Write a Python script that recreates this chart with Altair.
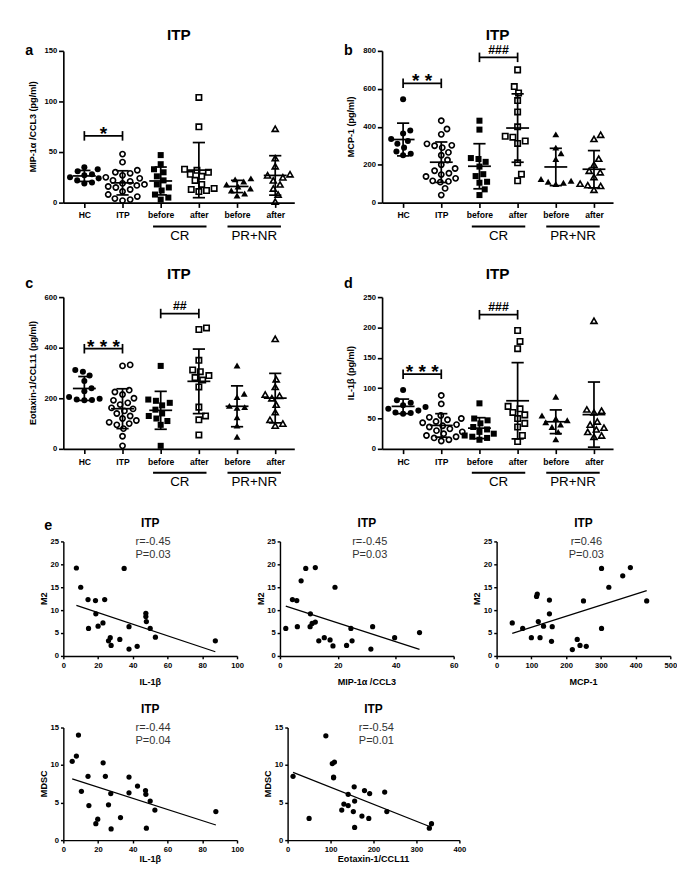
import altair as alt
import numpy as np
import pandas as pd

FONT = "Liberation Sans"

# ---------------- data: dot plots ----------------
CAT_LABELS = ["HC", "ITP", "before", "after", "before", "after"]
SHAPES = ["circle", "circle", "square", "square", "triangle-up", "triangle-up"]
FILLED = [True, False, True, False, True, False]
SIZES = [40, 30, 40, 32, 52, 40]

# a: MIP-1a/CCL3
a_hc = [35, 33, 31, 28, 27, 25, 24, 22, 20, 19]
a_itp = [48, 40, 32, 30, 29, 27, 25, 24, 22, 21, 19, 18, 17, 16, 15, 13, 11, 8, 6, 4, 3, 2]
a_cr_before = [47, 38, 33, 30, 26, 22, 18, 15, 12, 8, 5, 3]
a_cr_after = [104, 75, 33, 32, 30, 28, 26, 22, 18, 14, 13, 12, 11]
a_pr_before = [24, 23, 21, 18, 16, 14, 12, 9, 7]
a_pr_after = [73, 44, 36, 28, 27, 25, 22, 18, 14, 8, 1]

# b: MCP-1
b_hc = [545, 380, 365, 335, 325, 310, 290, 270, 258, 250]
b_itp = [432, 388, 360, 310, 302, 300, 290, 265, 250, 225, 200, 180, 168, 155, 148, 138, 128, 115, 112, 108, 75, 40]
b_cr_before = [432, 385, 235, 230, 215, 190, 150, 140, 110, 105, 70, 40]
b_cr_after = [700, 612, 578, 538, 478, 400, 350, 345, 325, 312, 210, 150, 115]
b_pr_before = [360, 290, 260, 230, 125, 115, 110, 105, 98]
b_pr_after = [358, 336, 232, 200, 168, 160, 135, 100, 92, 88, 68]

# c: Eotaxin-1/CCL11
c_hc = [312, 305, 290, 268, 240, 228, 205, 198, 195, 193, 192]
c_itp = [332, 328, 232, 225, 215, 200, 192, 182, 175, 162, 158, 150, 140, 130, 120, 112, 105, 100, 95, 80, 50, 12]
c_cr_before = [328, 195, 190, 182, 172, 155, 140, 130, 120, 110, 95, 12]
c_cr_after = [478, 472, 350, 312, 305, 290, 282, 272, 245, 165, 130, 115, 55]
c_pr_before = [330, 218, 205, 170, 165, 162, 125, 92, 48]
c_pr_after = [435, 275, 245, 215, 210, 200, 175, 145, 115, 100, 92]

# d: IL-1b
d_hc = [97, 80, 76, 72, 69, 66, 63, 60, 59, 58]
d_itp = [88, 74, 55, 52, 50, 48, 45, 43, 40, 38, 36, 33, 30, 28, 25, 22, 20, 18, 15, 13]
d_cr_before = [75, 50, 47, 42, 36, 32, 28, 25, 22, 20, 18, 15]
d_cr_after = [195, 177, 165, 70, 66, 60, 56, 50, 42, 36, 22, 12]
d_pr_before = [86, 55, 50, 47, 44, 40, 36, 28, 16]
d_pr_after = [211, 65, 63, 60, 45, 40, 35, 32, 28, 22, 20]

# significance brackets: (from group, to group, level, label)
a_brackets = [(0, 1, 66, "*")]
b_brackets = [(0, 1, 629, "* *"), (2, 3, 766, "###")]
c_brackets = [(0, 1, 396, "* * *"), (2, 3, 535, "##")]
d_brackets = [(0, 1, 123, "* * *"), (2, 3, 221, "###")]

# group labels under the axis
group_labels = ["CR", "PR+NR"]
group_spans = [(1.8, 3.2, 2.5), (3.75, 5.15, 4.45)]

# ---------------- data: correlations ----------------
e1_x = [7.5, 10, 14.2, 18.5, 23.8, 18.7, 14.5, 20, 22.8, 35, 37.8, 47.5, 47.5, 47.8, 50, 53, 26, 27, 27.5, 32.5, 37.8, 42.5, 87.5]
e1_y = [19.2, 15, 12.3, 12.1, 12.3, 9.2, 6.0, 6.5, 7.2, 19.1, 6.4, 9.3, 8.6, 7.5, 6.0, 4.1, 3.3, 4.0, 2.3, 3.6, 1.5, 2.1, 3.3]

e2_x = [2.0, 4.3, 5.8, 6.0, 7.3, 8.9, 12.2, 10.5, 10.4, 11.1, 12.2, 19, 24.5, 32, 48.2, 13.4, 15.3, 17.3, 18.3, 23, 24.9, 31.4, 39.6]
e2_y = [6.0, 12.3, 12.1, 6.4, 16.4, 19.1, 19.3, 9.2, 6.4, 7.1, 7.4, 15.0, 6.0, 6.4, 5.1, 3.3, 4.0, 3.5, 2.2, 2.3, 3.3, 1.5, 4.0]

e3_x = [45, 75, 100, 115, 117, 120, 125, 135, 152, 152, 160, 158, 218, 232, 240, 258, 250, 302, 302, 323, 363, 385, 432]
e3_y = [7.2, 6.0, 4.0, 13.0, 13.5, 7.5, 4.0, 6.5, 12.2, 9.2, 6.4, 3.2, 1.4, 3.6, 2.3, 2.1, 12.0, 19.1, 6.0, 15.0, 17.5, 19.3, 12.0]

e4_x = [5.1, 7.5, 8.7, 10.4, 14.2, 14.7, 18.7, 19.8, 22.9, 24.2, 26, 27.3, 27.5, 32.9, 37.8, 37.8, 42.7, 47.3, 47.5, 47.8, 50, 52.7, 87.8]
e4_y = [10.5, 11.2, 14.0, 6.5, 8.5, 4.6, 2.2, 2.8, 10.3, 8.5, 4.7, 6.2, 1.5, 3.0, 8.4, 6.3, 7.2, 6.6, 6.1, 1.6, 5.2, 4.0, 3.8]

e5_x = [12.6, 50, 89, 104, 109, 107, 107, 126, 131, 141, 141, 155, 156, 153, 156, 173, 179, 189, 191, 226, 231, 330, 335]
e5_y = [8.5, 2.9, 13.9, 10.2, 10.4, 8.4, 8.3, 4.0, 4.8, 6.1, 4.6, 7.1, 5.2, 3.8, 1.7, 3.2, 6.6, 2.9, 6.2, 6.4, 3.8, 1.6, 2.2]

# ---------------- helpers ----------------
ONE = pd.DataFrame({"k": [0]})
XDOM = [-0.55, 5.5]
W_TOP, H_TOP = 242, 159


def txt(text, x, y, size, weight="normal", align="center", baseline="alphabetic", angle=0, color="black"):
    return alt.Chart(ONE).mark_text(
        text=text, font=FONT, fontSize=size, fontWeight=weight, align=align,
        baseline=baseline, angle=angle, color=color
    ).encode(x=alt.value(x), y=alt.value(y))


def anchor(x, y1, y2):
    return alt.Chart(ONE).mark_rule(opacity=0, strokeWidth=0).encode(
        x=alt.value(x), x2=alt.value(x), y=alt.value(y1), y2=alt.value(y2))


def swarm(vals, ppu_y, ppu_x, d=8.0):
    order = sorted(range(len(vals)), key=lambda i: vals[i])
    placed = []
    offs = [0.0] * len(vals)
    cands = [0.0]
    for k in range(1, 80):
        cands += [k * 0.5, -k * 0.5]
    for i in order:
        y = vals[i] * ppu_y
        chosen = 0.0
        for c in cands:
            if all((c - px) ** 2 + (y - py) ** 2 >= d * d for py, px in placed):
                chosen = c
                break
        placed.append((y, chosen))
        offs[i] = chosen / ppu_x
    return offs


def dot_panel(groups, ymax, yticks, ytitle, letter, letter_y, title_y, brackets, anch):
    W, H = W_TOP, H_TOP
    ppu_y = H / ymax
    ppu_x = W / (XDOM[1] - XDOM[0])
    xs = alt.Scale(domain=XDOM, nice=False, zero=False)
    ys = alt.Scale(domain=[0, ymax], nice=False, zero=False)
    label_expr = "[" + ",".join("'%s'" % c for c in CAT_LABELS) + "][datum.value]"
    xax = alt.Axis(values=list(range(6)), labelExpr=label_expr, title=None, labelFontSize=9,
                   labelFontWeight="bold", tickSize=5, labelPadding=4, domainWidth=1.7, tickWidth=1.7)
    yax = alt.Axis(values=yticks, title=None, labelFontSize=8, labelFontWeight="bold",
                   tickSize=5, labelPadding=2, domainWidth=1.7, tickWidth=1.7)

    def X(f):
        return alt.X(f, type="quantitative", scale=xs, axis=xax)

    def Y(f):
        return alt.Y(f, type="quantitative", scale=ys, axis=yax)

    layers = []
    summ = []
    for gi, vals in enumerate(groups):
        offs = swarm(vals, ppu_y, ppu_x)
        df = pd.DataFrame({"x": [gi + o for o in offs], "v": vals})
        layers.append(alt.Chart(df).mark_point(
            shape=SHAPES[gi], filled=FILLED[gi], size=SIZES[gi], color="black",
            opacity=1, strokeWidth=1.7).encode(x=X("x"), y=Y("v")))
        m = float(np.mean(vals))
        s = float(np.std(vals, ddof=1))
        summ.append({"gi": gi, "m": m, "lo": m - s, "hi": m + s,
                     "ml": gi - 0.3, "mr": gi + 0.3, "cl": gi - 0.16, "cr": gi + 0.16})
    sm = pd.DataFrame(summ)
    rule = dict(color="black", strokeWidth=1.8)
    layers += [
        alt.Chart(sm).mark_rule(**rule).encode(x=X("gi"), y=Y("lo"), y2="hi"),
        alt.Chart(sm).mark_rule(**rule).encode(x=X("ml"), x2="mr", y=Y("m")),
        alt.Chart(sm).mark_rule(**rule).encode(x=X("cl"), x2="cr", y=Y("hi")),
        alt.Chart(sm).mark_rule(**rule).encode(x=X("cl"), x2="cr", y=Y("lo")),
    ]
    cap = 5.0 / ppu_y
    for (g1, g2, lvl, lab) in brackets:
        bdf = pd.DataFrame([{"x1": g1, "x2": g2, "y": lvl, "ylo": lvl - cap, "yhi": lvl + cap,
                             "xm": (g1 + g2) / 2, "t": lab}])
        is_star = "*" in lab
        layers += [
            alt.Chart(bdf).mark_rule(**rule).encode(x=X("x1"), x2="x2", y=Y("y")),
            alt.Chart(bdf).mark_rule(**rule).encode(x=X("x1"), y=Y("ylo"), y2="yhi"),
            alt.Chart(bdf).mark_rule(**rule).encode(x=X("x2"), y=Y("ylo"), y2="yhi"),
            alt.Chart(bdf).mark_text(font=FONT, fontWeight="bold", fontSize=20 if is_star else 13,
                                     baseline="alphabetic", dy=4 if is_star else -4,
                                     color="black").encode(x=X("xm"), y=Y("y"), text="t:N"),
        ]
    gdf = pd.DataFrame([{"x1": s[0], "x2": s[1], "xm": s[2], "t": t}
                        for s, t in zip(group_spans, group_labels)])
    layers += [
        alt.Chart(gdf).mark_rule(color="black", strokeWidth=2).encode(
            x=X("x1"), x2="x2", y=alt.value(H + 25)),
        alt.Chart(gdf).mark_text(font=FONT, fontSize=14, color="black", baseline="alphabetic").encode(
            x=X("xm"), y=alt.value(H + 39), text="t:N"),
        txt("ITP", W / 2, title_y, 16, weight="bold"),
        txt(letter, -40, letter_y, 15, weight="bold", align="left"),
        txt(ytitle, -32, H / 2, 9.5, weight="bold", baseline="middle", angle=270),
    ]
    if anch is not None:
        layers.append(anchor(*anch))
    return alt.layer(*layers).properties(width=W, height=H)


def scatter_panel(xv, yv, xmax, xticks, ymax, yticks, xtitle, ytitle, rtxt, ptxt, W, H,
                  xtitle_dy=27, extra=None):
    df = pd.DataFrame({"x": xv, "y": yv})
    xs = alt.Scale(domain=[0, xmax], nice=False, zero=False)
    ys = alt.Scale(domain=[0, ymax], nice=False, zero=False)
    xax = alt.Axis(values=xticks, title=None, labelFontSize=8, labelFontWeight="bold",
                   tickSize=3, labelPadding=3, domainWidth=1.5, tickWidth=1.5)
    yax = alt.Axis(values=yticks, title=None, labelFontSize=8, labelFontWeight="bold",
                   tickSize=3, labelPadding=2, domainWidth=1.5, tickWidth=1.5)
    enc = dict(x=alt.X("x:Q", scale=xs, axis=xax), y=alt.Y("y:Q", scale=ys, axis=yax))
    layers = [
        alt.Chart(df).transform_regression("x", "y").mark_line(color="black", strokeWidth=1.3).encode(**enc),
        alt.Chart(df).mark_circle(size=30, color="black", opacity=1).encode(**enc),
        txt("ITP", W / 2, -15, 12.5, weight="bold"),
        txt(rtxt, W / 2 + 3, 4, 11.5, color="#333333"),
        txt(ptxt, W / 2 + 3, 17, 11.5, color="#333333"),
        txt(xtitle, W / 2, H + xtitle_dy, 9.5, weight="bold", baseline="middle"),
        txt(ytitle, -20, H / 2, 9.5, weight="bold", baseline="middle", angle=270),
    ]
    if extra:
        layers += extra
    return alt.layer(*layers).properties(width=W, height=H)


# ---------------- panels ----------------
pa = dot_panel([a_hc, a_itp, a_cr_before, a_cr_after, a_pr_before, a_pr_after], 150, [0, 50, 100, 150],
               "MIP-1α /CCL3 (pg/ml)", "a", 4, -11, a_brackets, (-58, -24, H_TOP + 54))
pb = dot_panel([b_hc, b_itp, b_cr_before, b_cr_after, b_pr_before, b_pr_after], 800, [0, 200, 400, 600, 800],
               "MCP-1 (pg/ml)", "b", 4, -11, b_brackets, None)
pc = dot_panel([c_hc, c_itp, c_cr_before, c_cr_after, c_pr_before, c_pr_after], 600, [0, 200, 400, 600],
               "Eotaxin-1/CCL11 (pg/ml)", "c", -10, -19, c_brackets, (-58, -45, H_TOP + 56))
pd_ = dot_panel([d_hc, d_itp, d_cr_before, d_cr_after, d_pr_before, d_pr_after], 250, [0, 50, 100, 150, 200, 250],
                "IL-1β (pg/ml)", "d", -10, -19, d_brackets, None)

W3, H3 = 182, 120
W4, H4 = 182, 118
M2_TICKS = [0, 5, 10, 15, 20, 25]
MD_TICKS = [0, 5, 10, 15]

e1 = scatter_panel(e1_x, e1_y, 100, [0, 20, 40, 60, 80, 100], 25, M2_TICKS, "IL-1β", "M2",
                   "r=-0.45", "P=0.03", W3, H3,
                   extra=[txt("e", -20, -12, 15, weight="bold", align="left"), anchor(-25, -41, H3 + 39)])
e2 = scatter_panel(e2_x, e2_y, 60, [0, 20, 40, 60], 25, M2_TICKS, "MIP-1α /CCL3", "M2",
                   "r=-0.45", "P=0.03", W3, H3)
e3 = scatter_panel(e3_x, e3_y, 500, [0, 100, 200, 300, 400, 500], 25, M2_TICKS, "MCP-1", "M2",
                   "r=0.46", "P=0.03", W3, H3)
e4 = scatter_panel(e4_x, e4_y, 100, [0, 20, 40, 60, 80, 100], 15, MD_TICKS, "IL-1β", "MDSC",
                   "r=-0.44", "P=0.04", W4, H4, xtitle_dy=20, extra=[anchor(-25, -36, H4 + 25)])
e5 = scatter_panel(e5_x, e5_y, 400, [0, 100, 200, 300, 400], 15, MD_TICKS, "Eotaxin-1/CCL11", "MDSC",
                   "r=-0.54", "P=0.01", 180, H4, xtitle_dy=20)

row1 = alt.hconcat(pa, pb, spacing=92, bounds="flush")
row2 = alt.hconcat(pc, pd_, spacing=92, bounds="flush")
row3 = alt.hconcat(e1, e2, e3, spacing=45, bounds="flush")
row4 = alt.hconcat(e4, e5, spacing=53, bounds="flush")

chart = alt.vconcat(row1, row2, row3, row4, spacing=0, padding=0).configure_view(
    strokeWidth=0
).configure_axis(
    grid=False, labelFlush=False, labelOverlap=False, domainColor="black", tickColor="black",
    labelColor="black", labelFont=FONT
)

chart.save("out.html", embed_options={"renderer": "svg", "actions": False})
